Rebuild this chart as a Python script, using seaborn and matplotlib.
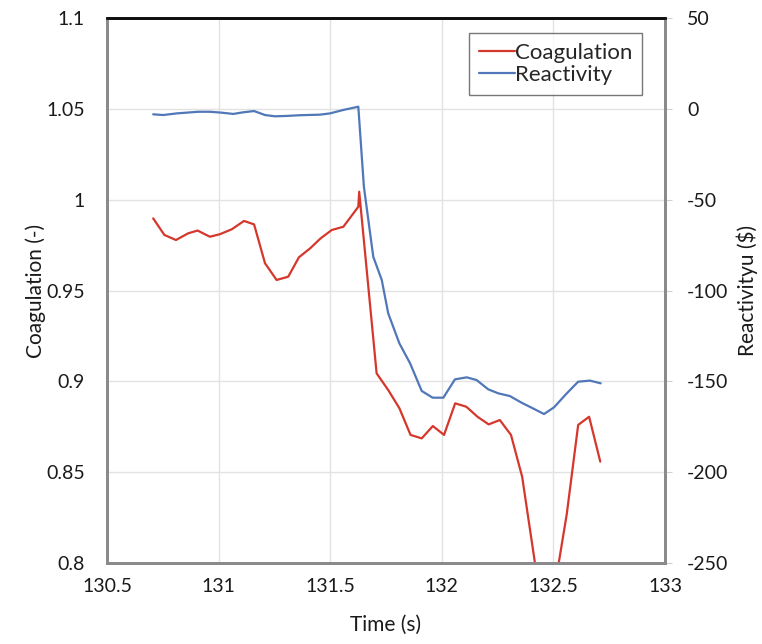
import pandas as pd
import seaborn as sns
import matplotlib.pyplot as plt
from matplotlib.lines import Line2D

# Datos
tiempo_coag = [130.707, 130.757, 130.809, 130.864, 130.906, 130.961, 131.006, 131.059,
               131.114, 131.159, 131.208, 131.260, 131.312, 131.360, 131.410, 131.457,
               131.507, 131.559, 131.626, 131.630, 131.708, 131.760, 131.810, 131.860,
               131.910, 131.960, 132.010, 132.060, 132.110, 132.160, 132.210, 132.260,
               132.310, 132.360, 132.415, 132.465, 132.560, 132.611, 132.660, 132.710]
coagulacion = [0.9897, 0.9806, 0.9778, 0.9815, 0.9830, 0.9796, 0.9810, 0.9837,
               0.9883, 0.9864, 0.9650, 0.9558, 0.9576, 0.9683, 0.9732, 0.9787,
               0.9833, 0.9851, 0.9961, 1.0044, 0.9044, 0.8952, 0.8852, 0.8705,
               0.8686, 0.8754, 0.8705, 0.8879, 0.8860, 0.8805, 0.8763, 0.8787,
               0.8705, 0.8475, 0.8020, 0.7560, 0.8270, 0.8760, 0.8805, 0.8558]

tiempo_reac = [130.707, 130.752, 130.812, 130.909, 130.961, 131.014, 131.066, 131.110,
               131.159, 131.208, 131.253, 131.305, 131.365, 131.454, 131.499, 131.559,
               131.626, 131.651, 131.693, 131.731, 131.760, 131.810, 131.858, 131.910,
               131.959, 132.007, 132.059, 132.112, 132.156, 132.208, 132.253, 132.305,
               132.358, 132.407, 132.458, 132.503, 132.557, 132.611, 132.664, 132.712]
reactividad = [-3.0, -3.4, -2.5, -1.6, -1.6, -2.1, -2.8, -1.9,
               -1.2, -3.4, -4.1, -3.9, -3.5, -3.2, -2.5, -0.6,
               1.2, -42.9, -81.4, -94.2, -112.6, -129.1, -140.1, -155.3,
               -159.0, -159.0, -148.9, -147.8, -149.3, -154.4, -156.6, -158.1,
               -161.8, -164.8, -168.0, -164.3, -157.0, -150.2, -149.6, -151.1]

df_coag = pd.DataFrame({"Time": tiempo_coag, "Coagulation": coagulacion})
df_reac = pd.DataFrame({"Time": tiempo_reac, "Reactivity": reactividad})

sns.set_style("white")
plt.rcParams["font.family"] = ["Lato", "DejaVu Sans"]
plt.rcParams["axes.unicode_minus"] = False

color_rojo = "#d6372c"
color_azul = "#5077b8"
color_texto = "#1a1a1a"

fig = plt.figure(figsize=(7.62, 6.44), dpi=100)
ax = fig.add_axes([0.1404, 0.1258, 0.7323, 0.8462])
ax2 = ax.twinx()

sns.lineplot(data=df_coag, x="Time", y="Coagulation", ax=ax, sort=False,
             color=color_rojo, linewidth=1.6)
sns.lineplot(data=df_reac, x="Time", y="Reactivity", ax=ax2, sort=False,
             color=color_azul, linewidth=1.6)

ax.set_xlim(130.5, 133)
ax.set_ylim(0.8, 1.1)
ax2.set_ylim(-250, 50)
ax.set_xticks([130.5, 131, 131.5, 132, 132.5, 133])
ax.set_xticklabels(["130.5", "131", "131.5", "132", "132.5", "133"])
ax.set_yticks([0.8, 0.85, 0.9, 0.95, 1.0, 1.05, 1.1])
ax.set_yticklabels(["0.8", "0.85", "0.9", "0.95", "1", "1.05", "1.1"])
ax2.set_yticks([-250, -200, -150, -100, -50, 0, 50])

ax.grid(True, color="#e2e2e2", linewidth=1.0)
ax.tick_params(axis="y", length=0, labelsize=14, pad=16, colors=color_texto)
ax.tick_params(axis="x", length=0, labelsize=14, pad=11, colors=color_texto)
ax2.tick_params(axis="y", length=5, color="#d0d0d0", labelsize=14, pad=11,
                labelcolor=color_texto)

ax.set_xlabel("Time (s)", fontsize=15, labelpad=14, color=color_texto)
ax.set_ylabel("Coagulation (-)", fontsize=15, labelpad=0, color=color_texto)
ax2.set_ylabel("Reactivityu ($)", fontsize=15, labelpad=6, color=color_texto)

for eje in (ax, ax2):
    for lado in ("left", "right", "bottom"):
        eje.spines[lado].set_color("#8a8a8a")
        eje.spines[lado].set_linewidth(2.0)
    eje.spines["top"].set_color("#111111")
    eje.spines["top"].set_linewidth(2.0)

manejadores = [Line2D([], [], color=color_rojo, linewidth=1.6),
               Line2D([], [], color=color_azul, linewidth=1.6)]
leyenda = ax2.legend(manejadores, ["Coagulation", "Reactivity"], loc="upper right",
                     bbox_to_anchor=(0.9588, 0.9725), fontsize=16, frameon=True,
                     fancybox=False, handlelength=1.6, handletextpad=0.0,
                     borderpad=0.45, labelspacing=0.1, borderaxespad=0)
leyenda.get_frame().set_edgecolor("#555555")
leyenda.get_frame().set_linewidth(1.0)

fig.savefig("out.png", dpi=100)
